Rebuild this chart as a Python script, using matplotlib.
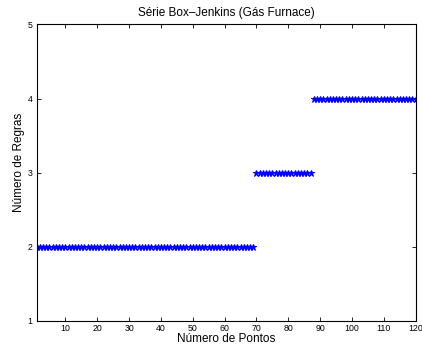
import numpy as np
import matplotlib
matplotlib.use("Agg")
import matplotlib.pyplot as plt

plt.rcParams['font.family'] = ['Liberation Sans', 'DejaVu Sans']

# number of rules per segment of points
seg_start = [1, 70, 88]
seg_end = [69, 87, 120]
seg_rules = [2, 3, 4]

x = np.concatenate([np.arange(s, e + 1) for s, e in zip(seg_start, seg_end)])
y = np.concatenate([np.full(e - s + 1, r) for s, e, r in zip(seg_start, seg_end, seg_rules)])

xticks = [10, 20, 30, 40, 50, 60, 70, 80, 90, 100, 110, 120]
yticks = [1, 2, 3, 4, 5]

fig = plt.figure(figsize=(4.22, 3.49), dpi=100, facecolor="white")
ax = fig.add_axes([0.087, 0.081, 0.898, 0.849])
ax.plot(x, y, linestyle="none", marker="*", color="#0000ff", markersize=5, markeredgewidth=0.7)

ax.set_xlim(1, 120)
ax.set_ylim(1, 5)
ax.set_xticks(xticks)
ax.set_yticks(yticks)
ax.tick_params(direction="in", top=True, right=True, labelsize=6.3, length=3, width=0.6, pad=3)
ax.tick_params(axis="x", pad=2)
for sp in ax.spines.values():
    sp.set_linewidth(0.8)

ax.set_title("Série Box–Jenkins (Gás Furnace)", fontsize=8.5, pad=6)
ax.set_xlabel("Número de Pontos", fontsize=8.5, labelpad=0)
ax.set_ylabel("Número de Regras", fontsize=8.5)
ax.yaxis.set_label_coords(-0.031, 0.534)

fig.savefig("out.png", dpi=100)
